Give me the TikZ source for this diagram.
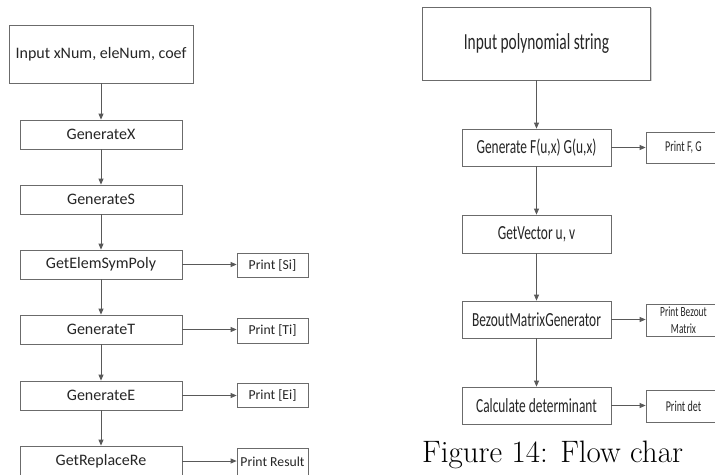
\documentclass[tikz,border=0pt]{standalone}
\usepackage{fontspec}
\newfontfamily\calfont{Carlito}
\newfontfamily\narrowfont[FakeStretch=0.67]{Carlito}
\usetikzlibrary{arrows.meta,shadows}
\begin{document}
\begin{tikzpicture}[x=1pt,y=-1pt,
  box/.style={draw=black!58, line width=0.8pt, fill=white, inner sep=0pt, text=black!85,
    drop shadow={shadow xshift=1.3pt,shadow yshift=-1.3pt,fill=black!35}},
  lmain/.style={box, minimum width=162pt, minimum height=29pt, font=\calfont\fontsize{16}{19}\selectfont},
  lprint/.style={box, minimum width=71pt, minimum height=24pt, font=\calfont\fontsize{13.7}{16}\selectfont},
  rmain/.style={box, minimum width=149pt, minimum height=37pt, font=\narrowfont\fontsize{20}{23}\selectfont},
  rprint/.style={box, minimum width=75pt, minimum height=31pt, align=center, font=\narrowfont\fontsize{15}{17}\selectfont},
  arr/.style={draw=black!65, line width=0.8pt, -{Triangle[length=6pt,width=5pt]}}]
\useasboundingbox (0,0) rectangle (715,474);
\clip (0,0) rectangle (715,474);
\fill[white] (0,0) rectangle (715,474);

% left chart
\node[box, minimum width=184pt, minimum height=58pt, font=\calfont\fontsize{16}{19}\selectfont] (in1) at (101,54) {Input xNum, eleNum, coef};
\node[lmain] (gx) at (101,134.5) {GenerateX};
\node[lmain] (gs) at (101,199.5) {GenerateS};
\node[lmain] (ge) at (101,264.5) {GetElemSymPoly};
\node[lmain] (gt) at (101,329.5) {GenerateT};
\node[lmain] (gE) at (101,395.5) {GenerateE};
\node[lmain, minimum height=30pt] (gr) at (101,461) {GetReplaceRe};

\node[lprint] (psi) at (272.5,265) {Print [Si]};
\node[lprint, minimum height=25pt] (pti) at (272.5,330.5) {Print [Ti]};
\node[lprint] (pei) at (272.5,395) {Print [Ei]};
\node[lprint, minimum height=28pt] (pres) at (272.5,462) {Print Result};

\draw[arr] (in1) -- (gx);
\draw[arr] (gx) -- (gs);
\draw[arr] (gs) -- (ge);
\draw[arr] (ge) -- (gt);
\draw[arr] (gt) -- (gE);
\draw[arr] (gE) -- (gr);
\draw[arr] (ge) -- (ge -| psi.west);
\draw[arr] (gt) -- (gt -| pti.west);
\draw[arr] (gE) -- (gE -| pei.west);
\draw[arr] (gr) -- (gr -| pres.west);

% right chart
\node[box, minimum width=228pt, minimum height=73pt, font=\narrowfont\fontsize{23}{27}\selectfont] (rin) at (536.5,43.5) {Input polynomial string};
\node[rmain] (rg) at (536.5,147.5) {Generate F(u,x) G(u,x)};
\node[rmain, minimum height=38pt] (rv) at (536.5,234) {GetVector u, v};
\node[rmain] (rb) at (536.5,319.5) {BezoutMatrixGenerator};
\node[rmain] (rc) at (536.5,405.5) {Calculate determinant};

\node[rprint] (pfg) at (683.5,147.5) {Print F, G};
\node[rprint, minimum height=32pt, font=\narrowfont\fontsize{14}{17}\selectfont] (pbm) at (683.5,320) {Print Bezout\\Matrix};
\node[rprint, minimum height=32pt] (pdet) at (683.5,406) {Print det};

\draw[arr] (rin) -- (rg);
\draw[arr] (rg) -- (rv);
\draw[arr] (rv) -- (rb);
\draw[arr] (rb) -- (rc);
\draw[arr] (rg) -- (rg -| pfg.west);
\draw[arr] (rb) -- (rb -| pbm.west);
\draw[arr] (rc) -- (rc -| pdet.west);

\node[anchor=base west, inner sep=0pt, font=\fontsize{31}{37}\selectfont] (cap) at (422,462) {Figure 14: Flow char};
\end{tikzpicture}
\end{document}
